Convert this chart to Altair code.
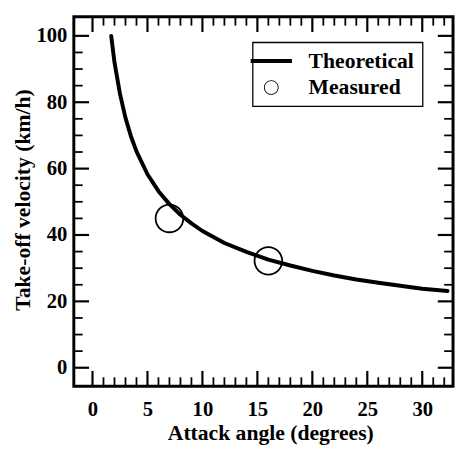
import altair as alt
import pandas as pd

# ---- data ----
theo_angle = [1.7, 2.0, 2.5, 3.0, 3.5, 4.0, 5.0, 6.0, 7.0, 8.0, 9.0, 10.0, 12.0,
              14.0, 16.0, 18.0, 20.0, 22.0, 24.0, 26.0, 28.0, 30.0, 32.3]
theo_velocity = [100.0, 92.0, 82.5, 75.3, 69.7, 65.2, 58.3, 53.2, 49.3, 46.1, 43.5,
                 41.2, 37.6, 34.9, 32.6, 30.8, 29.2, 27.8, 26.6, 25.6, 24.7, 23.8, 23.1]
meas_angle = [7.0, 16.0]
meas_velocity = [45.0, 32.2]
series_names = ["Theoretical", "Measured"]

x_major = [0, 5, 10, 15, 20, 25, 30]
x_minor = [1, 2, 3, 4, 6, 7, 8, 9, 11, 12, 13, 14, 16, 17, 18, 19,
           21, 22, 23, 24, 26, 27, 28, 29, 31, 32]
y_major = [0, 20, 40, 60, 80, 100]
y_minor = [5, 10, 15, 25, 30, 35, 45, 50, 55, 65, 70, 75, 85, 90, 95]

# ---- layout / style ----
W, H = 386, 376
FONT = "Times New Roman, Liberation Serif, serif"
MAJ, MIN = 15.5, 9
MAJ_W, MIN_W = 2.2, 1.8

theo_df = pd.DataFrame({"angle": theo_angle, "velocity": theo_velocity})
meas_df = pd.DataFrame({"angle": meas_angle, "velocity": meas_velocity,
                        "series": ["Measured"] * len(meas_angle)})

xs = alt.Scale(domain=[-1.7, 32.8], nice=False, zero=False)
ys = alt.Scale(domain=[-5.55, 105.75], nice=False, zero=False)

x_axis = alt.Axis(values=x_major, ticks=False, domain=False, grid=False,
                  labelFont=FONT, labelFontSize=21, labelFontWeight="bold",
                  labelColor="black", labelPadding=13,
                  title="Attack angle (degrees)", titleFont=FONT, titleFontSize=22,
                  titleFontWeight="bold", titleColor="black",
                  titleBaseline="alphabetic", titleX=200, titleY=54)
y_axis = alt.Axis(values=y_major, ticks=False, domain=False, grid=False,
                  labelFont=FONT, labelFontSize=21, labelFontWeight="bold",
                  labelColor="black", labelPadding=7,
                  title="Take-off velocity (km/h)", titleFont=FONT, titleFontSize=22,
                  titleFontWeight="bold", titleColor="black",
                  titleBaseline="alphabetic", titleX=-45, titleY=186, titleAngle=-90)

ring = ("M1,0A1,1,0,1,1,-1,0A1,1,0,1,1,1,0Z "
        "M0.88,0A0.88,0.88,0,1,0,-0.88,0A0.88,0.88,0,1,0,0.88,0Z")
bar = "M-2.8,-0.27L2.8,-0.27L2.8,0.27L-2.8,0.27Z"

line = alt.Chart(theo_df).mark_line(color="black", strokeWidth=4, strokeCap="round",
                                    strokeJoin="round").encode(
    x=alt.X("angle:Q", scale=xs, axis=x_axis),
    y=alt.Y("velocity:Q", scale=ys, axis=y_axis),
)

points = alt.Chart(meas_df).mark_point(filled=True, color="black", size=900,
                                       opacity=1, strokeWidth=0).encode(
    x=alt.X("angle:Q"),
    y=alt.Y("velocity:Q"),
    shape=alt.Shape("series:N",
                    scale=alt.Scale(domain=series_names, range=[bar, ring]),
                    legend=alt.Legend(title=None, orient="none", legendX=182, legendY=26,
                                      labelFont=FONT, labelFontSize=22,
                                      labelFontWeight="bold", labelColor="black",
                                      symbolSize=225, symbolFillColor="black",
                                      symbolStrokeWidth=0, symbolOpacity=1,
                                      labelOffset=27, rowPadding=5,
                                      padding=8, strokeColor="black",
                                      fillColor="white")),
)


def xticks(vals, y0, y1, w):
    d = pd.DataFrame({"t": vals})
    return alt.Chart(d).mark_rule(color="black", strokeWidth=w).encode(
        x=alt.X("t:Q"), y=alt.value(y0), y2=alt.value(y1))


def yticks(vals, x0, x1, w):
    d = pd.DataFrame({"t": vals})
    return alt.Chart(d).mark_rule(color="black", strokeWidth=w).encode(
        y=alt.Y("t:Q"), x=alt.value(x0), x2=alt.value(x1))


# inward ticks on all four sides (positions through the shared scales)
tick_layers = [
    xticks(x_major, H, H - MAJ, MAJ_W), xticks(x_minor, H, H - MIN, MIN_W),
    xticks(x_major, 0, MAJ, MAJ_W), xticks(x_minor, 0, MIN, MIN_W),
    yticks(y_major, 0, MAJ, MAJ_W), yticks(y_minor, 0, MIN, MIN_W),
    yticks(y_major, W, W - MAJ, MAJ_W), yticks(y_minor, W, W - MIN, MIN_W),
]

chart = alt.layer(line, points, *tick_layers).properties(
    width=W, height=H,
    autosize=alt.AutoSizeParams(type="none"),
    padding={"left": 67, "top": 5, "right": 2, "bottom": 58},
    background="white",
).configure_view(stroke="black", strokeWidth=3).configure_legend(strokeWidth=1.3)

chart.save("out.html", embed_options={"renderer": "svg", "actions": False})
